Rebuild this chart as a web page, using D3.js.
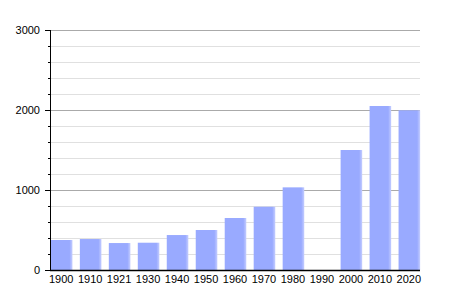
<!DOCTYPE html>
<html>
<head>
<meta charset="utf-8">
<script src="https://cdn.jsdelivr.net/npm/d3@7"></script>
<style>
  body { margin: 0; background: #fff; }
  svg { display: block; font-family: "Liberation Sans", Arial, sans-serif; }
</style>
</head>
<body>
<svg id="chart" width="450" height="300"></svg>
<script>
const years = ['1900', '1910', '1921', '1930', '1940', '1950', '1960', '1970', '1980', '1990', '2000', '2010', '2020'];
const population = [375, 387, 337, 341, 437, 500, 650, 791, 1033, null, 1500, 2050, 1996];
const majorTicks = [0, 1000, 2000, 3000];
const minorTicks = d3.range(200, 3001, 200).filter(v => v % 1000 !== 0);

const margin = { top: 30, left: 50, bottom: 30, right: 30 };
const width = 450;
const height = 300;

const svg = d3.select('#chart');

const x = d3
    .scaleBand()
    .domain(years)
    .range([margin.left, width - margin.right])
    .paddingInner(0.29)
    .paddingOuter(0.03);

const y = d3
    .scaleLinear()
    .domain([0, 3000])
    .range([height - margin.bottom, margin.top]);

// bar fill: flat blue with a soft edge on the right
const grad = svg.append('defs')
    .append('linearGradient')
    .attr('id', 'barFill')
    .attr('x1', 0).attr('x2', 1).attr('y1', 0).attr('y2', 0);
grad.append('stop').attr('offset', '0%').attr('stop-color', '#99aaff');
grad.append('stop').attr('offset', '86%').attr('stop-color', '#99aaff');
grad.append('stop').attr('offset', '100%').attr('stop-color', '#c4cdff');

// grid
svg.append('g')
    .selectAll('line')
    .data(minorTicks)
    .enter()
    .append('line')
    .attr('x1', margin.left + 1)
    .attr('x2', width - margin.right)
    .attr('y1', d => Math.round(y(d)) + 0.5)
    .attr('y2', d => Math.round(y(d)) + 0.5)
    .attr('stroke', '#e0e0e0');

svg.append('g')
    .selectAll('line')
    .data(majorTicks.slice(1))
    .enter()
    .append('line')
    .attr('x1', margin.left + 1)
    .attr('x2', width - margin.right)
    .attr('y1', d => Math.round(y(d)) + 0.5)
    .attr('y2', d => Math.round(y(d)) + 0.5)
    .attr('stroke', '#aaaaaa');

// bars
svg.append('g')
    .selectAll('rect')
    .data(years.map((year, i) => ({ year, value: population[i] })).filter(d => d.value !== null))
    .enter()
    .append('rect')
    .attr('x', d => x(d.year))
    .attr('width', x.bandwidth() + 1)
    .attr('y', d => y(d.value))
    .attr('height', d => y(0) - y(d.value))
    .attr('fill', 'url(#barFill)');

// y axis
const yAxis = d3.axisLeft(y)
    .tickValues(majorTicks)
    .tickSize(5)
    .tickPadding(5)
    .tickFormat(d3.format('d'));

const yAxisG = svg.append('g')
    .attr('transform', `translate(${margin.left},0)`)
    .call(yAxis);
yAxisG.select('.domain').attr('stroke', '#000').attr('d', `M0.5,${y(3000)}V${y(0)}`);
yAxisG.selectAll('text').attr('font-size', 11).attr('fill', '#000').attr('font-family', null);

yAxisG.append('g')
    .selectAll('line')
    .data(minorTicks)
    .enter()
    .append('line')
    .attr('x1', -2)
    .attr('x2', 0.5)
    .attr('y1', d => Math.round(y(d)) + 0.5)
    .attr('y2', d => Math.round(y(d)) + 0.5)
    .attr('stroke', '#000');

// x axis
const xAxis = d3.axisBottom(x).tickSize(0).tickPadding(5);
const xAxisG = svg.append('g')
    .attr('transform', `translate(0,${height - margin.bottom})`)
    .call(xAxis);
xAxisG.select('.domain').attr('stroke', '#000').attr('stroke-width', 1.5).attr('d', `M${margin.left},0.5H${width - margin.right}`);
xAxisG.selectAll('text').attr('font-size', 11).attr('fill', '#000').attr('font-family', null);
</script>
</body>
</html>
